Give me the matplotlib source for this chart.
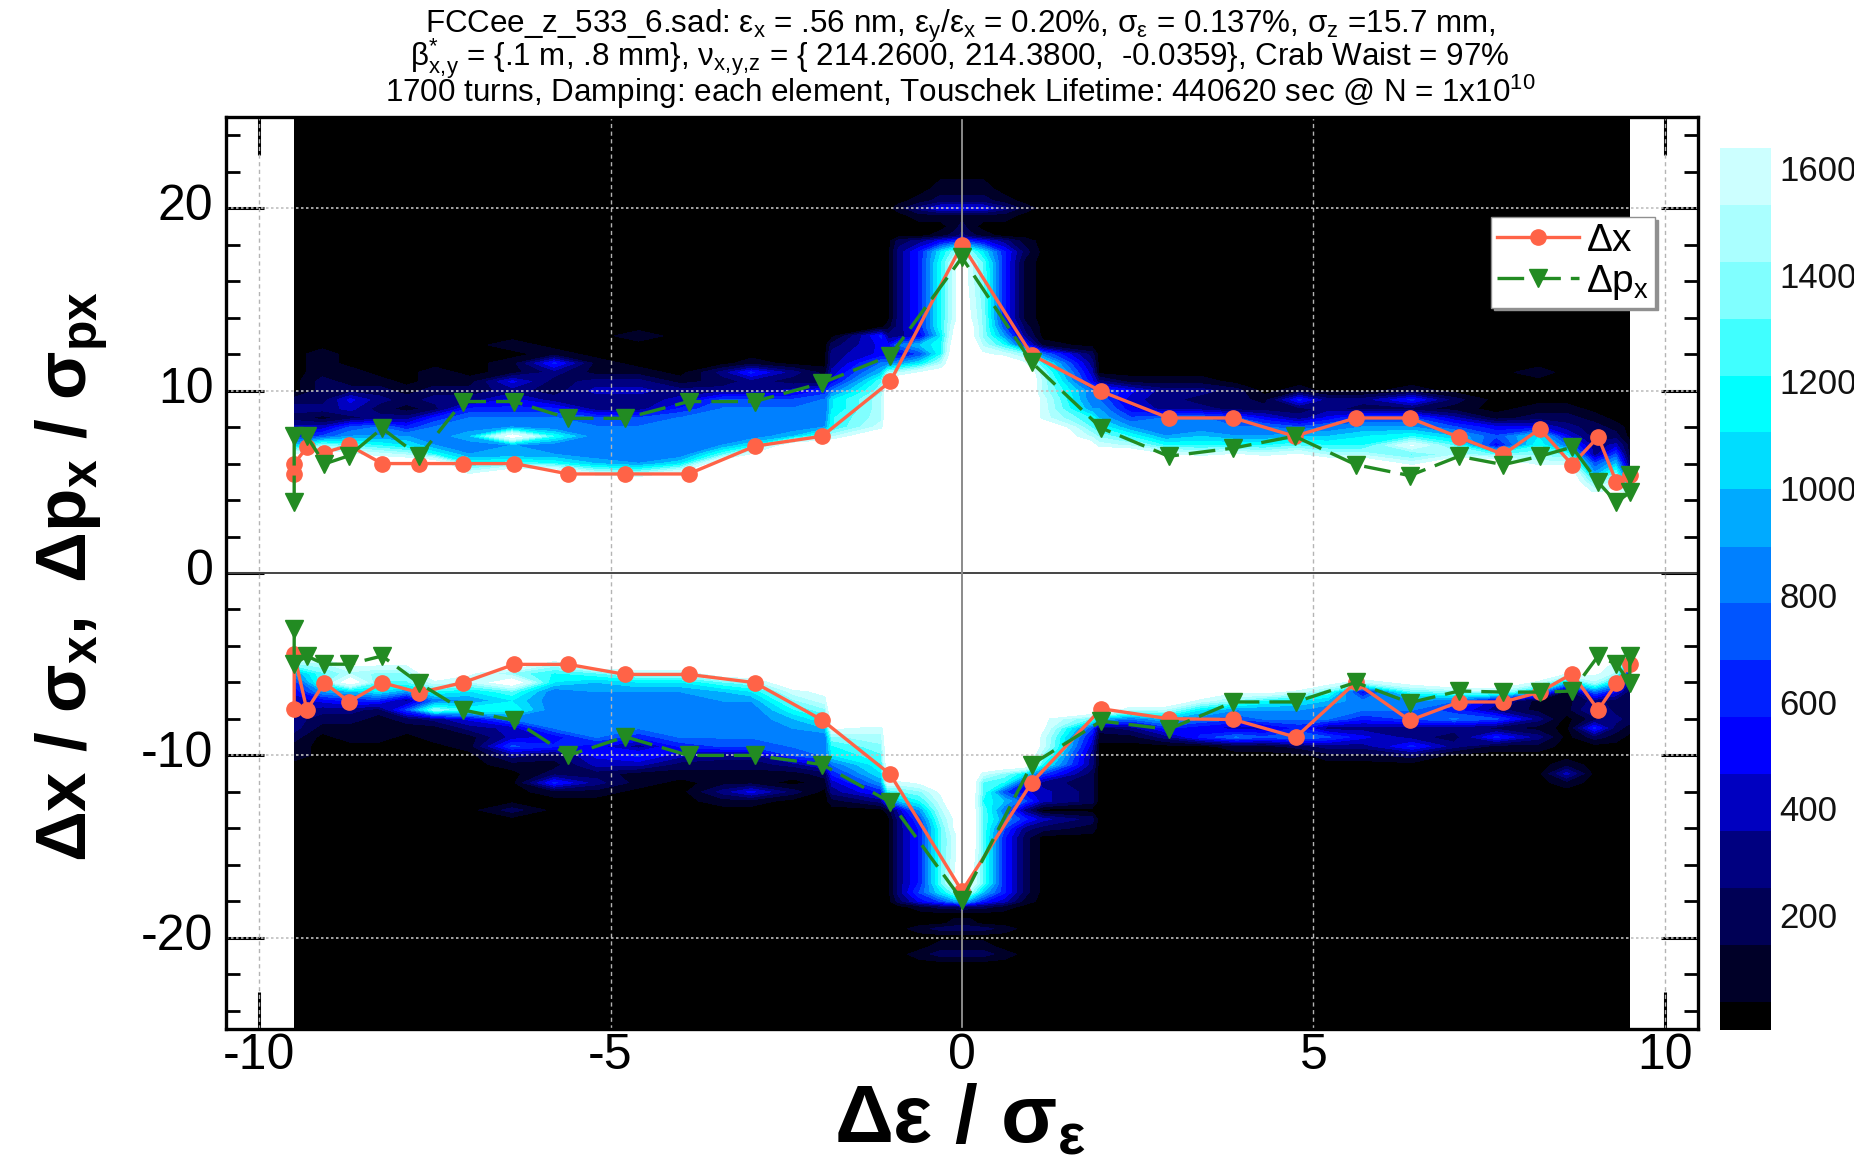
import numpy as np
import matplotlib
matplotlib.use("Agg")
import matplotlib.pyplot as plt
from matplotlib.ticker import MultipleLocator
from matplotlib.transforms import ScaledTranslation

plt.rcParams['font.family'] = ['Liberation Sans', 'DejaVu Sans']
plt.rcParams['mathtext.fontset'] = 'custom'
plt.rcParams['mathtext.rm'] = 'Liberation Sans'
plt.rcParams['mathtext.it'] = 'Liberation Sans'
plt.rcParams['mathtext.bf'] = 'Liberation Sans:bold'
plt.rcParams['axes.unicode_minus'] = False

# density grid, in units of 100 particles (20 = above the colour scale, drawn white)
X = [-9.5,-9.1,-8.7,-8.3,-7.9,-7.5,-7,-6.4,-5.8,-5.2,-4.6,-4,-3.4,-3,-2.4,-1.95,-1.85,-1.15,-1.05,-0.9,-0.6,-0.3,-0.1,
     0,0.1,0.3,0.6,0.9,1.15,1.85,1.95,2.4,2.9,3.4,3.9,4.3,4.8,5.2,5.7,6.4,7,7.6,8.2,8.6,9,9.3,9.5]
Y_UP = [13,12.5,12,11.5,11,10.5,10,9.5,9,8.5,8,7.5,7,6.5,6,5.5,5,4.5,4]
Y_LOW = [-4,-4.5,-5,-5.5,-6,-6.5,-7,-7.5,-8,-8.5,-9,-9.5,-10,-10.5,-11,-11.5,-12,-12.5,-13,-13.5,-14,-14.5]

# one list per X column, from y=13 downward; columns end in white
UPPER = [
 [0,0,0,0,0,0,0,2,3,2,4,6,10,17],
 [0,0,1,1,1,2,2,2,3,1,4,7,14],
 [0,0,0,0,1,1,2,5,4,2,7,9,13,17],
 [0,0,0,0,0,1,2,3,2,3,8,9,12,16],
 [0,0,0,0,0,0,1,2,1,3,6,9,11,15],
 [0,0,0,0,1,1,2,3,2,6,8,8,9,12],
 [0,0,0,0,0,1,2,3,6,8,8,10,8,9,12,16],
 [0,1,0,1,1,5,3,5,6,8,9,19,9,9,13],
 [0,0,1,6,3,2,2,3,6,8,8,12,8,9,12],
 [0,0,0,1,1,3,4,3,3,7,8,8,8,8,10,15],
 [1,0,0,0,1,3,4,3,3,7,8,8,8,8,9,14],
 [0,0,0,0,0,1,3,4,6,8,8,8,8,8,11,17],
 [0,0,0,0,3,2,3,7,8,8,8,8,9,13],
 [0,0,0,1,6,3,3,7,8,8,8,8,11,17],
 [0,0,0,0,3,2,4,7,8,8,8,10],
 [0,0,0,0,1,2,6,8,8,8,9,14],
 [0,2,3,3,4,5,8,11,11,12,12,15],
 [6,5,5,8,10,13,14,15,15,15,16],
 [3,5,5,8,14],
 [3,8,5,9,15],
 [5,10,7,11,17],
 [11,12,12,15,18],
 [18,19],
 [],
 [18],
 [14,15,17],
 [9,12,16],
 [3,6,14,17],
 [0,1,8,12,14,15,15,16,16,16],
 [0,0,2,3,4,5,8,8,9,12,13,15,18],
 [0,0,0,0,0,3,7,8,9,10,12,14,16],
 [0,0,0,0,0,1,5,4,5,7,9,12,15],
 [0,0,0,0,0,1,3,3,3,8,8,9,12,17],
 [0,0,0,0,0,1,3,2,3,8,8,10,12,16],
 [0,0,0,0,0,0,2,2,2,7,8,9,12,17],
 [0,0,0,0,0,0,0,1,2,5,8,9,12,16],
 [0,0,0,0,0,0,1,6,2,3,7,10,13,17],
 [0,0,0,0,0,0,0,3,3,5,8,10,12,15],
 [0,0,0,0,0,0,0,3,2,7,9,11,12,15],
 [0,0,0,0,0,0,1,6,2,7,9,12,17,13,16],
 [0,0,0,0,0,0,0,2,1,4,7,10,13,15],
 [0,0,0,0,0,0,0,0,0,1,5,7,5,13],
 [0,0,0,0,1,0,0,0,1,2,5,11,12,14,16],
 [0,0,0,0,0,0,0,0,1,2,3,5,8,13,16],
 [0,0,0,0,0,0,0,0,0,1,2,2,3,3,7,9,13,16],
 [0,0,0,0,0,0,0,0,0,0,1,2,4,7,10,13,16,17,18],
 [0,0,0,0,0,0,0,0,0,0,0,0,1,1,2,4,7,15],
]
# one list per X column, from y=-4 downward; columns end in black
LOWER = [
 [20,18,14,9,6,5,4,4,3,3,2,1,1],
 [20,18,15,13,13,9,5,3,2,1],
 [20,20,17,15,19,10,6,3,2,1,1],
 [20,20,17,14,13,11,6,2,1,1,1],
 [20,20,17,14,13,9,3,7,2,1],
 [20,20,20,20,16,12,8,14,3,1,1],
 [20,20,20,17,15,11,9,12,5,3,1,1],
 [20,20,20,14,19,13,11,12,8,4,4,7,3,1,0,0,0,0,2],
 [20,20,15,12,11,8,8,8,8,8,5,6,2,1,2,6,1],
 [20,20,20,13,10,9,8,8,8,8,8,5,5,4,2,3,1],
 [20,20,20,15,11,9,8,8,8,8,6,3,6,4,1,1],
 [20,20,20,15,11,9,8,8,8,8,8,6,4,2,1],
 [20,20,20,19,13,10,9,8,8,8,8,7,3,2,1,1,3,1],
 [20,20,20,20,14,11,9,8,8,8,8,7,3,2,1,1,5,1],
 [20,20,20,20,20,16,14,12,10,9,8,8,7,3,1,0,2],
 [20,20,20,20,20,17,16,14,12,10,8,8,8,5,2,1],
 [20,20,20,20,20,20,20,20,20,17,14,12,11,8,6,4,3,1],
 [20,20,20,20,20,20,20,20,20,16,15,14,13,12,11,9,6,3],
 [20]*15+[17,12,9,1],
 [20]*15+[16,13,10,4,3,3,3],
 [20]*15+[17,14,12,9,7,6,6],
 [20]*15+[19,17,16,15,14,13,13],
 [20]*18+[18,17,17,16],
 [20]*22,
 [20]*22,
 [20]*14+[16,13,13,12,13,13,13,13],
 [20]*14+[14,12,7,10,8,9,7,6],
 [20]*14+[11,6,5,7,3,6,3,2],
 [20]*8+[17,17,16,16,14,12,7,3,4,4,0,4,2],
 [20]*8+[13,7,5,4,3,3,2,2,2,2,0,2,1],
 [20]*8+[10,2,1],
 [20]*7+[15,8,3,1],
 [20]*7+[15,10,6,3],
 [20]*6+[16,11,8,5,6],
 [20]*5+[17,14,9,7,4,8,1],
 [20]*5+[18,12,9,8,4,7,1],
 [20]*5+[16,11,9,8,6,8,2],
 [20]*4+[18,13,10,8,8,3,7,3,1],
 [20]*4+[15,5,8,8,6,3,5,3,1],
 [20]*4+[18,13,9,8,7,3,3,6,2],
 [20]*5+[14,8,6,8,3,2,3],
 [20]*5+[15,4,3,7,2,6,1],
 [20]*4+[16,10,1,1,3,1,3,1],
 [20,20,20,17,10,1,1,1,0,0,0,0,0,1,4,1],
 [20,20,18,17,15,8,3,4,2,6,2],
 [20,18,16,15,10,5,2,2,3,2,1],
 [20,15,10,4,3,2,2,2,2,1],
]
# tails of the central spike
CORE_X = [-1.05,-0.9,-0.6,-0.3,-0.1,0,0.1,0.3,0.6,0.9,1.15]
TOP_Y = [21,20.4,20,19.6,19,18.5,18.2,17.6,17,14,13.5]
TOP = [
 [0,0,0,1,1,1,1,1,0,0,0],
 [0,0,1,2,2,2,2,2,1,0,0],
 [0,1,3,5,5,5,5,5,3,1,0],
 [0,0,1,1,1,1,1,1,1,0,0],
 [0,0,0,0,1,2,1,0,0,0,0],
 [0,0,0,1,2,3,2,1,0,0,0],
 [0,2,3,5,6,6,6,5,3,1,0],
 [0,3,6,11,14,16,14,11,6,2,0],
 [0,3,6,12,16,20,16,13,6,1,0],
 [0,3,6,12,16,20,17,14,6,1,0],
 [1,3,6,12,17,20,18,14,7,2,0],
]
BOT_Y = [-15,-17,-17.5,-18,-18.3,-18.7,-19.2,-19.5,-19.9,-20.5,-20.9,-21.4]
BOT = [
 [0,3,6,13,16,20,20,13,6,2,0],
 [0,3,6,13,17,20,18,13,6,2,0],
 [0,3,7,11,14,17,15,10,6,2,0],
 [0,2,5,7,9,10,9,6,4,1,0],
 [0,0,1,2,2,3,2,2,1,0,0],
 [0,0,0,0,0,0,0,0,0,0,0],
 [0,0,0,0,1,1,1,0,0,0,0],
 [0,0,1,2,2,2,2,2,1,0,0],
 [0,0,0,0,0,0,0,0,0,0,0],
 [0,0,0,1,1,1,1,1,0,0,0],
 [0,0,1,2,2,2,2,2,1,0,0],
 [0,0,0,0,0,0,0,0,0,0,0],
]

LEVELS = [-0.1,0.43,1.5,2.56,3.63,4.7,5.76,6.83,7.9,8.96,10.03,11.1,12.16,13.23,14.3,15.36,16.43]
BAND_COLORS = ['#000000','#000028','#000055','#000080','#0000c0','#0000ff','#0020ff','#0055ff',
               '#0080ff','#00aaff','#00ddff','#00ffff','#40ffff','#80ffff','#aaffff','#ccffff']
CBAR_TICKS = [200,400,600,800,1000,1200,1400,1600]

# amplitude curves
DX_UP_X = [-9.5,-9.5,-9.32,-9.07,-8.72,-8.25,-7.72,-7.1,-6.37,-5.6,-4.79,-3.89,-2.95,-1.99,-1.02,0,0.99,1.98,2.94,3.86,4.73,5.6,6.37,7.07,7.7,8.22,8.68,9.05,9.31,9.5]
DX_UP_Y = [5.43,5.98,6.9,6.6,7.0,6.0,6.0,6.0,6.0,5.43,5.43,5.43,6.95,7.5,10.5,18,11.97,9.96,8.5,8.5,7.5,8.5,8.5,7.44,6.5,7.9,5.94,7.46,4.97,5.4]
DP_UP_X = [-9.5,-9.5,-9.32,-9.07,-8.72,-8.25,-7.72,-7.1,-6.37,-5.6,-4.79,-3.89,-2.95,-1.99,-1.02,0,0.99,1.98,2.94,3.86,4.73,5.6,6.37,7.07,7.7,8.22,8.68,9.05,9.31,9.5,9.5]
DP_UP_Y = [3.88,7.5,7.5,5.98,6.43,7.93,6.4,9.4,9.4,8.48,8.48,9.4,9.4,10.42,11.92,17.3,11.55,7.95,6.4,6.85,7.5,5.94,5.34,6.4,5.94,6.4,6.9,4.97,3.88,4.42,5.4]
DX_LO_X = [-9.5,-9.5,-9.32,-9.07,-8.72,-8.25,-7.72,-7.1,-6.37,-5.6,-4.79,-3.89,-2.95,-1.99,-1.02,0,0.99,1.98,2.94,3.86,4.75,5.6,6.37,7.07,7.7,8.22,8.68,9.05,9.31,9.5]
DX_LO_Y = [-7.48,-4.46,-7.51,-6.01,-7.06,-6.01,-6.56,-6.01,-5.01,-5.01,-5.56,-5.56,-6.01,-8.06,-11.04,-17.44,-11.5,-7.44,-7.99,-8.03,-9,-6,-8.08,-7.07,-7.07,-6.53,-5.52,-7.51,-6.05,-5.01]
DP_LO_X = [-9.5,-9.5,-9.32,-9.07,-8.72,-8.25,-7.72,-7.1,-6.37,-5.6,-4.79,-3.89,-2.95,-1.99,-1.02,0,0.99,1.98,2.94,3.86,4.75,5.6,6.37,7.07,7.7,8.22,8.68,9.05,9.31,9.5,9.5]
DP_LO_Y = [-3.09,-5.0,-4.55,-5,-5,-4.55,-6.05,-7.51,-8.08,-10,-8.98,-10,-10,-10.5,-12.56,-17.93,-10.5,-8.12,-8.57,-7.07,-7.07,-6,-7.11,-6.47,-6.53,-6.53,-6.47,-4.55,-5,-6.01,-4.55]

TITLE_LINES = [
 r'FCCee_z_533_6.sad: $\mathrm{ε}_{x}$ = .56 nm, $\mathrm{ε}_{y}/\mathrm{ε}_{x}$ = 0.20%, $\mathrm{σ}_{ε}$ = 0.137%, $\mathrm{σ}_{z}$ =15.7 mm,',
 r'$\mathrm{β}^{*}_{x,\!y}$ = {.1 m, .8 mm}, $\mathrm{ν}_{x,\!y,\!z}$ = { 214.2600, 214.3800,  -0.0359}, Crab Waist = 97%',
 r'1700 turns, Damping: each element, Touschek Lifetime: 440620 sec @ N = 1x10$^{10}$',
]
XLABEL = r'$\mathbf{Δε\ /\ σ_{ε}}$'
YLABEL = r'$\mathbf{Δx\ /\ σ_{x},\ Δp_{x}\ /\ σ_{px}}$'
GRID_X = [-10, -5, 5, 10]
GRID_Y = [-20, -10, 10, 20]

W, H = 1854, 1165
fig = plt.figure(figsize=(W/100, H/100), dpi=100, facecolor='white')
L, R, T, B = 226, 1698, 117, 1029
ax = fig.add_axes([L/W, 1-B/H, (R-L)/W, (B-T)/H], facecolor='white')

# assemble the grid
ys_all = [25, 22] + TOP_Y + Y_UP + [3, -3] + Y_LOW + BOT_Y + [-22, -25]
Z = np.zeros((len(ys_all), len(X)))
row = {y: i for i, y in enumerate(ys_all)}
for j in range(len(X)):
    up = UPPER[j] + [20]*(len(Y_UP)-len(UPPER[j]))
    lo = LOWER[j] + [0]*(len(Y_LOW)-len(LOWER[j]))
    for y, v in zip(Y_UP, up):
        Z[row[y], j] = v
    for y, v in zip(Y_LOW, lo):
        Z[row[y], j] = v
    Z[row[3], j] = 20
    Z[row[-3], j] = 20
for jc, xc in enumerate(CORE_X):
    j = X.index(xc)
    for y, r in zip(TOP_Y, TOP):
        Z[row[y], j] = r[jc]
    for y, r in zip(BOT_Y, BOT):
        Z[row[y], j] = r[jc]

cs = ax.contourf(X, ys_all, Z*100, levels=np.array(LEVELS)*100, colors=BAND_COLORS,
                 antialiased=False, zorder=1)

ax.set_xlim(-10.47, 10.47)
ax.set_ylim(-25, 25)
ax.xaxis.set_major_locator(MultipleLocator(5))
ax.xaxis.set_minor_locator(MultipleLocator(1))
ax.yaxis.set_major_locator(MultipleLocator(10))
ax.yaxis.set_minor_locator(MultipleLocator(2))
for gx in GRID_X:
    ax.axvline(gx, color='#b4b4b4', lw=1.0, ls=(0, (3, 2.5)), zorder=2)
for gy in GRID_Y:
    ax.axhline(gy, color='#c0c0c0', lw=1.2, ls=(0, (1.5, 1.5)), zorder=2)
ax.axhline(0, color='#444444', lw=1.4, zorder=2)
ax.axvline(0, color='#8a8a8a', lw=1.4, zorder=2)

ax.tick_params(which='major', direction='in', top=True, right=True, length=27, width=2.2, labelsize=36, color='black')
ax.tick_params(which='minor', direction='in', top=True, right=True, length=10, width=2.0, color='black')
ax.tick_params(axis='x', which='major', pad=3)
ax.tick_params(axis='y', which='major', pad=9)
up_shift = ScaledTranslation(0, 6/100, fig.dpi_scale_trans)
for lab in ax.get_yticklabels():
    lab.set_transform(lab.get_transform() + up_shift)
for s in ax.spines.values():
    s.set_linewidth(2.4)
    s.set_color('black')
    s.set_zorder(5)

RED = '#ff6347'
GREEN = '#228b22'
red_kw = dict(color=RED, lw=2.4, marker='o', ms=11, mec=RED, zorder=3)
green_kw = dict(color=GREEN, lw=2.4, ls=(0, (8, 3)), marker='v', ms=13, mec=GREEN, zorder=3.2)
l1, = ax.plot(DX_UP_X, DX_UP_Y, label=r'$\mathrm{Δx}$', **red_kw)
ax.plot(DX_LO_X, DX_LO_Y, **red_kw)
l2, = ax.plot(DP_UP_X, DP_UP_Y, label=r'$\mathrm{Δp_{x}}$', **green_kw)
ax.plot(DP_LO_X, DP_LO_Y, **green_kw)

leg = ax.legend(handles=[l1, l2], loc='upper left', bbox_to_anchor=(1491/W, 1-217/H),
                bbox_transform=fig.transFigure, borderaxespad=0, fontsize=28, fancybox=False,
                framealpha=1, edgecolor='#909090', shadow={'ox': 2, 'oy': -2, 'color': '#909090', 'alpha': 1},
                handlelength=2.1, handletextpad=0.2, labelspacing=0.1, borderpad=0.15)
leg.set_zorder(6)

for line, yp in zip(TITLE_LINES, [26, 59, 92]):
    fig.text(960/W, 1-yp/H, line, ha='center', va='center', fontsize=22.6, color='black')

fig.text(960/W, 1-1122/H, XLABEL, ha='center', va='center', fontsize=59, color='black')
fig.text(71/W, 1-576/H, YLABEL, ha='center', va='center', rotation=90, fontsize=51, color='black')

cax = fig.add_axes([1720/W, 1-1030/H, 51/W, 882/H])
cb = fig.colorbar(cs, cax=cax, ticks=CBAR_TICKS, spacing='proportional', drawedges=False)
cb.outline.set_visible(False)
cax.tick_params(length=0, labelsize=25, pad=6, labelcolor='#111111')
cb_shift = ScaledTranslation(0, 3/100, fig.dpi_scale_trans)
for lab in cax.get_yticklabels():
    lab.set_transform(lab.get_transform() + cb_shift)

fig.savefig('out.png', dpi=100)
